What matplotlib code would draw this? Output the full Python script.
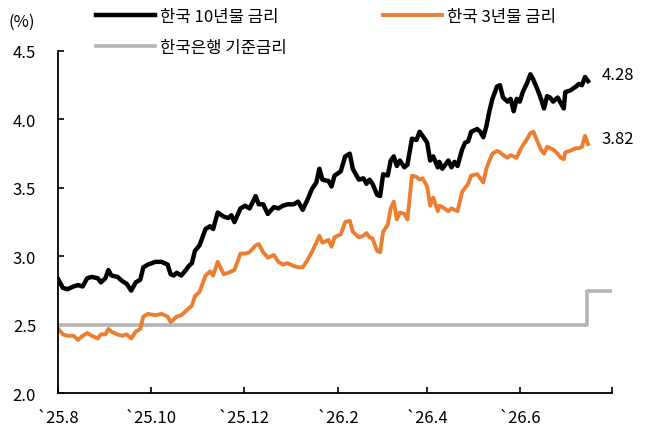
import matplotlib
matplotlib.use('Agg')
import matplotlib.pyplot as plt
import pandas as pd

plt.rcParams['font.family'] = ['Noto Sans CJK KR', 'DejaVu Sans']
plt.rcParams['font.size'] = 12

# days since 2025-08-01
day_offset = [0, 3, 6, 10, 13, 16, 19, 22, 26, 28, 31, 33, 35, 39, 42, 45, 48, 51, 54, 56, 59, 64, 68, 72, 74, 76, 78,
              81, 84, 86, 88, 90, 93,
              97, 100, 102, 105, 109, 112, 114, 116, 120, 123, 126, 130, 132, 135, 138, 142, 145, 148, 151, 155, 158,
              161, 164, 167, 170, 172, 174, 178, 180, 182, 186,
              189, 192, 194, 198, 201, 203, 205, 207, 210, 212, 214, 217, 219, 221, 223, 225, 228, 230, 233, 236, 238,
              240, 243, 245, 247, 250, 251, 253, 257, 259, 261, 263, 266, 268, 270, 272, 276, 278, 280,
              282, 284, 286, 289, 291, 293, 296, 298, 300, 302, 304, 306, 309, 311, 313, 316, 318, 320, 322, 324, 326,
              329, 331, 333, 334, 337, 341, 343, 345, 347, 349]

kr10 = [2.83, 2.77, 2.76, 2.78, 2.79, 2.78, 2.84, 2.85, 2.84, 2.81, 2.84, 2.90, 2.86, 2.85, 2.82, 2.80, 2.75, 2.81,
        2.83, 2.92, 2.94, 2.96, 2.96, 2.94, 2.87, 2.86, 2.88, 2.86, 2.90, 2.93, 2.95, 3.04, 3.08,
        3.20, 3.22, 3.20, 3.32, 3.29, 3.28, 3.30, 3.25, 3.35, 3.37, 3.35, 3.44, 3.38, 3.38, 3.31, 3.36, 3.35, 3.37,
        3.38, 3.38, 3.40, 3.34, 3.41, 3.49, 3.54, 3.64, 3.56, 3.55, 3.51, 3.59, 3.62,
        3.73, 3.75, 3.64, 3.56, 3.57, 3.53, 3.56, 3.53, 3.45, 3.44, 3.60, 3.59, 3.70, 3.73, 3.66, 3.70, 3.65, 3.67,
        3.86, 3.85, 3.91, 3.88, 3.83, 3.70, 3.73, 3.65, 3.69, 3.64, 3.70, 3.65, 3.69, 3.66, 3.78, 3.83, 3.84, 3.91,
        3.93, 3.91, 3.87,
        3.95, 4.06, 4.15, 4.24, 4.25, 4.16, 4.13, 4.15, 4.06, 4.15, 4.13, 4.20, 4.27, 4.33, 4.29, 4.21, 4.15, 4.08,
        4.17, 4.16, 4.13, 4.16, 4.12, 4.08, 4.20, 4.21, 4.24, 4.26, 4.25, 4.31, 4.28]

kr3 = [2.47, 2.43, 2.42, 2.42, 2.39, 2.42, 2.44, 2.42, 2.40, 2.43, 2.43, 2.47, 2.45, 2.43, 2.42, 2.43, 2.40, 2.45,
       2.47, 2.56, 2.58, 2.57, 2.58, 2.56, 2.52, 2.54, 2.56, 2.57, 2.60, 2.62, 2.64, 2.71, 2.74,
       2.86, 2.89, 2.86, 2.96, 2.87, 2.88, 2.89, 2.90, 3.02, 3.02, 3.03, 3.08, 3.09, 3.03, 2.99, 3.01, 2.96, 2.94,
       2.95, 2.93, 2.92, 2.92, 2.97, 3.03, 3.10, 3.15, 3.10, 3.12, 3.07, 3.14, 3.16,
       3.25, 3.26, 3.18, 3.14, 3.15, 3.17, 3.14, 3.13, 3.04, 3.03, 3.18, 3.23, 3.35, 3.40, 3.27, 3.32, 3.31, 3.27,
       3.59, 3.58, 3.56, 3.57, 3.51, 3.37, 3.43, 3.33, 3.37, 3.36, 3.33, 3.35, 3.34, 3.33, 3.47, 3.50, 3.53, 3.59,
       3.60, 3.57, 3.54,
       3.64, 3.70, 3.75, 3.77, 3.76, 3.74, 3.72, 3.74, 3.73, 3.72, 3.77, 3.81, 3.86, 3.90, 3.91, 3.83, 3.78, 3.75,
       3.80, 3.79, 3.78, 3.75, 3.72, 3.71, 3.76, 3.77, 3.79, 3.79, 3.80, 3.88, 3.82]

base_days = [0, 348, 364]
base_rate = [2.50, 2.75, 2.75]

tick_dates = ['2025-08-01', '2025-10-01', '2025-12-01', '2026-02-01', '2026-04-01', '2026-06-01', '2026-08-01']
tick_labels = ['`25.8', '`25.10', '`25.12', '`26.2', '`26.4', '`26.6', '']

start = pd.Timestamp('2025-08-01')
dates = start + pd.to_timedelta(day_offset, unit='D')
base_dates = start + pd.to_timedelta(base_days, unit='D')

fig = plt.figure(figsize=(6.51, 4.31), dpi=100)
ax = fig.add_axes([0.0896, 0.0852, 0.851, 0.7942])

l1, = ax.plot(dates, kr10, color='black', lw=3.2, label='한국 10년물 금리')
l3, = ax.plot(base_dates, base_rate, color='#b4b4b4', lw=2.6, drawstyle='steps-post', label='한국은행 기준금리')
l2, = ax.plot(dates, kr3, color='#ed7d31', lw=2.8, label='한국 3년물 금리')

ax.annotate(f'{kr10[-1]:.2f}', xy=(dates[-1], kr10[-1]), xytext=(10, 5), textcoords='offset points',
            va='center', ha='left', fontsize=12)
ax.annotate(f'{kr3[-1]:.2f}', xy=(dates[-1], kr3[-1]), xytext=(10, 4), textcoords='offset points',
            va='center', ha='left', fontsize=12)

ax.set_xlim(pd.Timestamp(tick_dates[0]), pd.Timestamp(tick_dates[-1]))
ax.set_ylim(2.0, 4.5)
ax.set_xticks(pd.to_datetime(tick_dates))
ax.set_xticklabels(tick_labels)
ax.set_yticks([2.0, 2.5, 3.0, 3.5, 4.0, 4.5])
ax.set_yticklabels(['2.0', '2.5', '3.0', '3.5', '4.0', '4.5'])
ax.tick_params(axis='both', direction='in', length=4, width=1.2, labelsize=12)
ax.tick_params(axis='y', pad=16)
ax.tick_params(axis='x', pad=11)
for s in ['top', 'right']:
    ax.spines[s].set_visible(False)
for s in ['left', 'bottom']:
    ax.spines[s].set_linewidth(1.3)

fig.text(0.013, 0.948, '(%)', fontsize=12, va='center', ha='left')

fig.legend(handles=[l1, l3, l2], loc='upper left', bbox_to_anchor=(0.143, 0.988), ncol=2, frameon=False,
           handlelength=3.5, handletextpad=0.3, columnspacing=5.8, labelspacing=0.86, borderpad=0.2,
           borderaxespad=0, fontsize=12)

fig.savefig('out.png', dpi=100)
